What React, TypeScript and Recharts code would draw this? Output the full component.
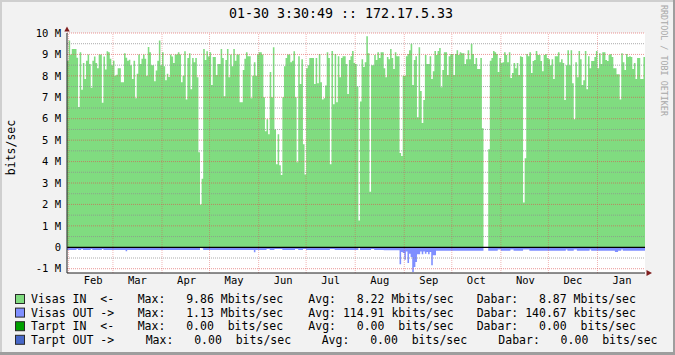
import React from 'react';
import { AreaChart, Area, XAxis, YAxis, CartesianGrid, ReferenceLine } from 'recharts';

// Daily values (Mbit/s), Jan 31 .. Jan 30
const visasIn: number[] = [
  8.7, 9.65, 9.0, 9.25, 9.25, 9.25, 8.85, 6.55, 9.1, 7.35,
  8.6, 7.85, 8.7, 9.0, 8.55, 7.45, 8.7, 8.9, 8.6, 8.35,
  9.0, 9.0, 6.75, 8.9, 8.3, 9.15, 9.1, 8.8, 8.5, 8.7,
  8.0, 8.05, 8.35, 8.35, 7.7, 7.7, 9.05, 8.85, 8.7, 8.75,
  8.5, 7.85, 8.7, 6.95, 8.1, 9.0, 8.55, 8.8, 9.0, 8.8,
  8.0, 9.35, 9.1, 8.5, 8.5, 7.75, 8.25, 8.7, 9.65, 8.5,
  9.1, 8.45, 7.8, 8.1, 7.95, 9.0, 8.9, 8.6, 9.0, 9.0,
  9.1, 9.0,
  7.7, 8.0, 9.15, 6.9, 8.83, 9.06, 7.38, 8.83, 8.64, 8.83,
  7.94, 4.44, 2.0, 3.2, 9.25, 8.74, 9.15, 8.9, 9.1, 7.57,
  8.88, 8.88, 8.04, 8.55, 8.55, 9.25, 8.83, 7.05, 8.74, 9.25,
  7.94, 9.0, 8.45, 9.25, 8.7, 9.0, 9.0, 6.77, 6.77, 8.27,
  8.8, 9.1, 8.92, 8.92, 6.95, 8.0, 8.64, 8.0, 9.0, 9.1,
  9.1, 9.0, 7.0, 5.42, 5.98, 5.28, 8.18, 7.0, 9.34, 5.5,
  3.88, 5.28, 3.83, 3.37, 7.0, 8.45, 8.83, 9.0, 9.0, 8.64,
  8.7, 9.15, 7.0, 3.97,
  8.92, 7.62, 8.78, 4.81, 3.4, 8.36, 8.5, 8.83, 8.83, 8.83,
  7.62, 8.83, 7.66, 9.02, 7.7, 6.9, 6.95, 7.55, 9.1, 8.83,
  3.88, 9.16, 6.68, 9.02, 6.77, 8.92, 7.94, 8.83, 8.92, 8.92,
  8.55, 7.15, 8.74, 8.92, 9.16, 8.6, 8.55, 7.5, 1.25, 6.8,
  8.78, 8.41, 8.64, 9.85, 9.06, 2.59, 8.5, 8.5, 8.97, 8.74,
  9.1, 8.83, 9.1, 9.1, 8.36, 7.94, 8.88, 8.78, 9.25, 8.83,
  8.32, 9.1, 8.92, 8.92, 4.4, 4.26, 8.0, 8.0, 8.92, 9.02,
  9.2, 9.5,
  7.57, 8.74, 8.92, 6.07, 9.34, 7.29, 5.8, 6.87, 8.97, 8.55,
  8.55, 8.92, 7.85, 8.22, 9.16, 8.97, 9.16, 9.3, 7.47, 8.27,
  9.1, 9.1, 8.04, 8.92, 9.02, 9.02, 8.04, 9.02, 9.2, 8.97,
  9.1, 9.06, 9.06, 8.55, 8.78, 9.2, 8.78, 9.5, 9.02, 8.55,
  8.83, 8.32, 8.32, 8.83, 5.56, 0, 0, 0, 4.58, 8.7,
  8.83, 9.16, 9.1, 9.02, 8.18, 8.83, 8.6, 8.64, 9.1, 8.97,
  8.64, 9.1, 7.9, 8.13, 8.6, 8.36, 8.6, 8.04, 8.92, 8.88,
  2.09, 4.15, 9.02, 8.92,
  9.1, 8.13, 8.69, 8.74, 9.16, 8.97, 8.97, 8.69, 8.22, 8.97,
  9.02, 8.83, 8.78, 8.5, 8.78, 7.85, 8.92, 8.92, 9.1, 8.64,
  8.78, 8.6, 6.87, 8.5, 9.2, 8.5, 9.2, 7.66, 5.98, 8.64,
  7.94, 9.16, 8.78, 7.57, 7.8, 9.16, 7.38, 8.92, 8.36, 8.69,
  8.69, 8.88, 9.16, 8.36, 9.06, 8.55, 9.1, 9.1, 8.74, 8.69,
  8.97, 9.02, 8.88, 8.36, 8.36, 8.08, 8.08, 6.9, 9.06, 8.64,
  8.27, 9.02, 8.88, 8.92, 8.88, 8.32, 8.6, 7.85, 8.83, 8.83,
  7.85, 7.85, 8.88,
];

const visasOut: number[] = [
  -0.13, -0.13, -0.13, -0.13, -0.13, -0.13, -0.08, -0.13, -0.13, -0.08,
  -0.13, -0.13, -0.13, -0.13, -0.13, -0.08, -0.13, -0.13, -0.13, -0.13,
  -0.13, -0.13, -0.08, -0.13, -0.13, -0.13, -0.13, -0.13, -0.13, -0.13,
  -0.13, -0.13, -0.13, -0.13, -0.13, -0.13, -0.13, -0.18, -0.13, -0.13,
  -0.13, -0.13, -0.13, -0.13, -0.13, -0.13, -0.13, -0.13, -0.13, -0.13,
  -0.13, -0.13, -0.13, -0.13, -0.13, -0.13, -0.13, -0.13, -0.13, -0.13,
  -0.13, -0.13, -0.13, -0.13, -0.13, -0.13, -0.13, -0.13, -0.13, -0.13,
  -0.13, -0.13, -0.13, -0.13, -0.13, -0.13, -0.13, -0.13, -0.13, -0.13,
  -0.13, -0.13, -0.13, -0.13, -0.03, -0.05, -0.13, -0.13, -0.13, -0.13,
  -0.13, -0.13, -0.13, -0.13, -0.13, -0.13, -0.13, -0.13, -0.13, -0.13,
  -0.13, -0.13, -0.13, -0.13, -0.13, -0.13, -0.13, -0.13, -0.13, -0.13,
  -0.13, -0.13, -0.13, -0.13, -0.13, -0.13, -0.13, -0.13, -0.23, -0.13,
  -0.13, -0.13, -0.13, -0.13, -0.13, -0.13, -0.08, -0.08, -0.13, -0.13,
  -0.13, -0.08, -0.08, -0.08, -0.08, -0.08, -0.13, -0.13, -0.13, -0.13,
  -0.13, -0.13, -0.13, -0.13, -0.08, -0.08, -0.13, -0.13, -0.13, -0.08,
  -0.08, -0.13, -0.13, -0.13, -0.13, -0.13, -0.13, -0.13, -0.13, -0.13,
  -0.13, -0.13, -0.13, -0.13, -0.13, -0.13, -0.08, -0.08, -0.08, -0.13,
  -0.13, -0.13, -0.13, -0.13, -0.13, -0.13, -0.13, -0.13, -0.13, -0.13,
  -0.13, -0.13, -0.13, -0.13, -0.03, -0.13, -0.13, -0.13, -0.13, -0.13,
  -0.13, -0.13, -0.08, -0.08, -0.13, -0.13, -0.13, -0.13, -0.13, -0.13,
  -0.14, -0.14, -0.14, -0.14, -0.14, -0.14, -0.14, -0.14, -0.14, -0.14,
  -0.79, -0.22, -0.27, -0.58, -0.2, -0.73, -0.3, -0.45, -1.15, -0.92,
  -0.69, -0.33, -0.33, -0.2, -0.33, -0.2, -0.3, -0.22, -0.33, -0.22,
  -0.84, -0.37, -0.37, -0.16, -0.16, -0.16, -0.16, -0.16, -0.16, -0.16,
  -0.16, -0.16, -0.16, -0.16, -0.16, -0.16, -0.16, -0.16, -0.16, -0.16,
  -0.16, -0.16, -0.16, -0.16, -0.16, -0.16, -0.16, -0.16, -0.16, -0.16,
  -0.16, -0.16, -0.16, 0, 0, 0, -0.16, -0.16, -0.16, -0.16,
  -0.16, -0.16, -0.1, -0.1, -0.16, -0.16, -0.16, -0.16, -0.16, -0.16,
  -0.1, -0.1, -0.16, -0.16, -0.16, -0.16, -0.16, -0.16, -0.1, -0.1,
  -0.1, -0.1, -0.16, -0.16, -0.16, -0.16, -0.16, -0.16, -0.16, -0.16,
  -0.16, -0.16, -0.16, -0.16, -0.16, -0.16, -0.16, -0.16, -0.16, -0.16,
  -0.16, -0.16, -0.16, -0.16, -0.16, -0.1, -0.16, -0.16, -0.16, -0.16,
  -0.1, -0.1, -0.16, -0.16, -0.16, -0.16, -0.16, -0.16, -0.16, -0.16,
  -0.1, -0.16, -0.16, -0.16, -0.16, -0.16, -0.16, -0.16, -0.16, -0.16,
  -0.16, -0.16, -0.16, -0.16, -0.16, -0.16, -0.22, -0.22, -0.16, -0.16,
  -0.1, -0.16, -0.16, -0.16, -0.16, -0.16, -0.16, -0.16, -0.16, -0.16,
  -0.16, -0.16, -0.16, -0.16, -0.16,
];

const monthLabels = ['Feb', 'Mar', 'Apr', 'May', 'Jun', 'Jul', 'Aug', 'Sep', 'Oct', 'Nov', 'Dec', 'Jan'];
const monthStarts = [1, 29, 60, 90, 121, 151, 182, 213, 243, 274, 304, 335];
const monthLabelPos = [16.5, 44.5, 75.5, 105.5, 136.5, 166.5, 197.5, 228.5, 258.5, 289.5, 319.5, 350.5];
const yTicks = [-1, 0, 1, 2, 3, 4, 5, 6, 7, 8, 9, 10];
const yMajor = [-1, 1, 2, 3, 4, 5, 6, 7, 8, 9, 10];
const yMinor = [-0.5, 0.5, 1.5, 2.5, 3.5, 4.5, 5.5, 6.5, 7.5, 8.5, 9.5];

const title = '01-30 3:30:49 :: 172.17.5.33';
const unitLabel = 'bits/sec';
const watermark = 'RRDTOOL / TOBI OETIKER';

const legendColors = ['#80DC80', '#7F8FFF', '#00A000', '#4868C8'];
const legendNames = ['Visas IN  <-', 'Visas OUT ->', 'Tarpt IN  <-', 'Tarpt OUT ->'];
const legendMax = ['Max:   9.86 Mbits/sec', 'Max:   1.13 Mbits/sec', 'Max:   0.00  bits/sec', 'Max:   0.00  bits/sec'];
const legendAvg = ['Avg:   8.22 Mbits/sec', 'Avg: 114.91 kbits/sec', 'Avg:   0.00  bits/sec', 'Avg:   0.00  bits/sec'];
const legendCur = ['Dabar:   8.87 Mbits/sec', 'Dabar: 140.67 kbits/sec', 'Dabar:   0.00  bits/sec', 'Dabar:   0.00  bits/sec'];

const data = visasIn.map((v, i) => ({ x: i, vin: v, vout: visasOut[i] }));
data.push({ x: visasIn.length, vin: visasIn[visasIn.length - 1], vout: visasOut[visasOut.length - 1] });

const MONO = "'DejaVu Sans Mono', monospace";
const GRID = 'rgba(143,143,143,0.75)';
const MGRID = 'rgba(222,79,79,0.6)';
const MGRID_V = 'rgba(222,79,79,0.42)';

export default function App() {
  const colMax = [137.7, 137.7, 137.7, 145.7];
  const colAvg = [308.3, 308.3, 308.3, 321.7];
  const colCur = [476.7, 476.7, 476.7, 498.3];
  return (
    <div style={{ position: 'absolute', left: 0, top: 0, width: 675, height: 355, background: '#F2F2F2', overflow: 'hidden' }}>
      <div style={{ position: 'absolute', left: 0, top: 0 }}>
        <AreaChart width={675} height={355} data={data} margin={{ top: 33, right: 30, bottom: 60, left: 0 }}>
          <CartesianGrid horizontal={false} vertical={false} fill="#FFFFFF" fillOpacity={1} stroke="none" />
          <XAxis
            dataKey="x"
            type="number"
            domain={[0, 365]}
            ticks={monthLabelPos}
            interval={0}
            allowDataOverflow
            height={22}
            tickFormatter={(v: number) => monthLabels[monthLabelPos.indexOf(v)] ?? ''}
            tick={{ fontFamily: MONO, fontSize: 10.5, fill: '#000' }}
            tickLine={false}
            tickSize={2}
            tickMargin={2}
            axisLine={{ stroke: '#1F1F1F' }}
          />
          <YAxis
            type="number"
            domain={[-1.2, 10]}
            ticks={yTicks}
            interval={0}
            allowDataOverflow
            width={67}
            tickFormatter={(v: number) => (v === 0 ? '0' : `${v} M`)}
            tick={{ fontFamily: MONO, fontSize: 10.5, fill: '#000' }}
            tickLine={false}
            tickSize={4}
            tickMargin={2}
            axisLine={{ stroke: '#1F1F1F' }}
          />
          <Area type="stepAfter" dataKey="vin" baseValue={0} fill="#80DC80" fillOpacity={1} stroke="none" isAnimationActive={false} dot={false} activeDot={false} />
          <Area type="stepAfter" dataKey="vout" baseValue={0} fill="#7F8FFF" fillOpacity={1} stroke="none" isAnimationActive={false} dot={false} activeDot={false} />
          {yMinor.map((v) => (
            <ReferenceLine key={'mn' + v} y={v} stroke={GRID} strokeDasharray="1 1" strokeWidth={1} zIndex={150} />
          ))}
          {yMajor.map((v) => (
            <ReferenceLine key={'mj' + v} y={v} stroke={MGRID} strokeDasharray="1 1" strokeWidth={1} zIndex={151} />
          ))}
          {monthStarts.map((v) => (
            <ReferenceLine key={'mv' + v} x={v} stroke={MGRID_V} strokeDasharray="1 1" strokeWidth={1} zIndex={151} />
          ))}
          <ReferenceLine y={0} stroke="#000000" strokeWidth={1.3} zIndex={160} />
        </AreaChart>
      </div>
      <svg width={675} height={355} style={{ position: 'absolute', left: 0, top: 0, pointerEvents: 'none' }}>
        <rect x={0} y={0} width={675} height={2} fill="#CFCFCF" />
        <rect x={0} y={0} width={2} height={355} fill="#CFCFCF" />
        <rect x={0} y={352} width={675} height={3} fill="#9E9E9E" />
        <rect x={673} y={0} width={2} height={355} fill="#9E9E9E" />
        <polygon points="64.3,31.5 69.7,31.5 67,26.5" fill="#801F1F" />
        <polygon points="646.5,270 646.5,276 652,273" fill="#801F1F" />
        <text x={341} y={18.3} textAnchor="middle" fontFamily={MONO} fontSize={13.3} fill="#000">{title}</text>
        <text x={15} y={147.5} textAnchor="middle" fontFamily={MONO} fontSize={11.5} fill="#000" transform="rotate(-90 15 147.5)">{unitLabel}</text>
        <text x={661} y={5} fontFamily={MONO} fontSize={8.4} fill="#A8A8A8" transform="rotate(90 661 5)">{watermark}</text>
        {legendNames.map((name, i) => {
          const base = 303 + i * 13.6;
          return (
            <g key={name}>
              <rect x={15.5} y={base - 8.5} width={9} height={9} fill={legendColors[i]} stroke="#2A2A2A" strokeWidth={1} />
              <text x={31} y={base} fontFamily={MONO} fontSize={11.5} fill="#000" style={{ whiteSpace: 'pre' }}>{name}</text>
              <text x={colMax[i]} y={base} fontFamily={MONO} fontSize={11.5} fill="#000" style={{ whiteSpace: 'pre' }}>{legendMax[i]}</text>
              <text x={colAvg[i]} y={base} fontFamily={MONO} fontSize={11.5} fill="#000" style={{ whiteSpace: 'pre' }}>{legendAvg[i]}</text>
              <text x={colCur[i]} y={base} fontFamily={MONO} fontSize={11.5} fill="#000" style={{ whiteSpace: 'pre' }}>{legendCur[i]}</text>
            </g>
          );
        })}
      </svg>
    </div>
  );
}
